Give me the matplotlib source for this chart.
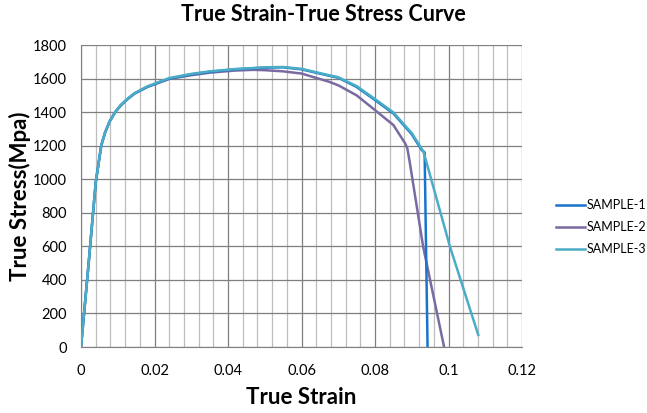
import numpy as np
import matplotlib.pyplot as plt
from matplotlib.ticker import MultipleLocator

plt.rcParams['font.family'] = ['Lato', 'DejaVu Sans']

# valores
strain_1 = [0, 0.002, 0.004, 0.0055, 0.0065, 0.0078, 0.0093, 0.0108, 0.0125, 0.0145, 0.018, 0.024,
            0.03, 0.035, 0.042, 0.05, 0.055, 0.06, 0.0675, 0.07, 0.075, 0.08, 0.085, 0.09, 0.0927,
            0.0935, 0.0943]
stress_1 = [0, 480, 980, 1200, 1275, 1345, 1400, 1440, 1475, 1510, 1550, 1600,
            1625, 1640, 1655, 1665, 1667, 1655, 1617, 1605, 1550, 1472, 1392, 1268, 1174,
            1160, 0]

strain_2 = [0, 0.002, 0.004, 0.0055, 0.0065, 0.0078, 0.0093, 0.0108, 0.0125, 0.0145, 0.018, 0.024,
            0.03, 0.035, 0.042, 0.047, 0.05, 0.055, 0.06, 0.0675, 0.07, 0.075, 0.08, 0.085,
            0.0882, 0.0888, 0.0895, 0.0931, 0.0988]
stress_2 = [0, 480, 980, 1200, 1275, 1345, 1400, 1440, 1475, 1510, 1550, 1598,
            1620, 1635, 1648, 1652, 1650, 1643, 1630, 1581, 1560, 1500, 1412, 1323,
            1214, 1184, 1095, 598, 0]

strain_3 = [0, 0.002, 0.004, 0.0055, 0.0065, 0.0078, 0.0093, 0.0108, 0.0125, 0.0145, 0.018, 0.024,
            0.03, 0.035, 0.042, 0.05, 0.055, 0.06, 0.0675, 0.07, 0.075, 0.08, 0.085, 0.09,
            0.0932, 0.1004, 0.1081]
stress_3 = [0, 480, 980, 1200, 1275, 1345, 1400, 1442, 1477, 1512, 1553, 1603,
            1628, 1643, 1657, 1667, 1669, 1658, 1620, 1608, 1555, 1478, 1398, 1275,
            1164, 598, 72]

labels = ['SAMPLE-1', 'SAMPLE-2', 'SAMPLE-3']
cores = ['#1874cd', '#7a6aa3', '#4bacc6']

fig = plt.figure(figsize=(6.47, 4.13), dpi=100)
ax = fig.add_axes([0.1252, 0.1598, 0.6816, 0.7312])

ax.plot(strain_1, stress_1, color=cores[0], lw=1.8, label=labels[0], zorder=3)
ax.plot(strain_2, stress_2, color=cores[1], lw=1.8, label=labels[1], zorder=2)
ax.plot(strain_3, stress_3, color=cores[2], lw=1.8, label=labels[2], zorder=4)

ax.set_xlim(0, 0.12)
ax.set_ylim(0, 1800)
ax.xaxis.set_minor_locator(MultipleLocator(0.004))
ax.yaxis.set_major_locator(MultipleLocator(200))
ax.set_xticks([0, 0.02, 0.04, 0.06, 0.08, 0.1, 0.12])
ax.set_xticklabels(['0', '0.02', '0.04', '0.06', '0.08', '0.1', '0.12'])

ax.grid(which='major', color='#7f7f7f', lw=0.9)
ax.grid(which='minor', axis='x', color='#bdbdbd', lw=0.9)
ax.set_axisbelow(True)
for s in ax.spines.values():
    s.set_visible(False)
ax.spines['left'].set_visible(True)
ax.spines['bottom'].set_visible(True)
ax.spines['left'].set_color('#7f7f7f')
ax.spines['bottom'].set_color('#7f7f7f')
ax.tick_params(which='both', length=0, labelsize=10.5)
ax.tick_params(axis='x', pad=12)
ax.tick_params(axis='y', pad=10)

fig.suptitle('True Strain-True Stress Curve', fontsize=15.5, fontweight='bold', x=0.5, y=0.99)
ax.set_xlabel('True Strain', fontsize=16, fontweight='bold', labelpad=7)
ax.set_ylabel('True Stress(Mpa)', fontsize=16, fontweight='bold')
ax.yaxis.set_label_coords(-0.113, 0.5)

fig.legend(loc='center left', bbox_to_anchor=(0.86, 0.45), frameon=False, fontsize=9,
           handlelength=2.3, handletextpad=0.1, labelspacing=0.8, borderpad=0,
           borderaxespad=0)

plt.savefig('out.png', dpi=100)
